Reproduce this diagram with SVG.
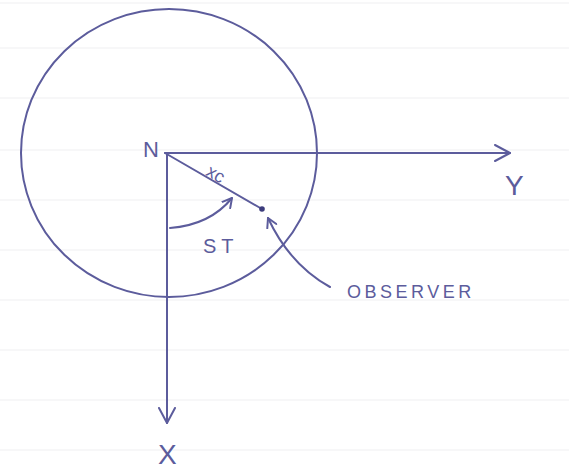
<svg xmlns="http://www.w3.org/2000/svg" width="569" height="473" viewBox="0 0 569 473">
<style>
.ink{fill:none;stroke:#5c5c9c;stroke-width:2;stroke-linecap:round;stroke-linejoin:round}
.rule{stroke:#efeff2;stroke-width:1.2}
.lbl{font-family:"Liberation Sans",Arial,sans-serif;fill:#5c5c9c}
</style>
<defs>
<marker id="open" viewBox="0 0 12 12" refX="10" refY="6" markerWidth="12" markerHeight="12" markerUnits="userSpaceOnUse" orient="auto">
<path d="M1,1 L10,6 L1,11" fill="none" stroke="#5c5c9c" stroke-width="2" stroke-linecap="round" stroke-linejoin="round"/>
</marker>
<marker id="big" viewBox="0 0 18 18" refX="16" refY="9" markerWidth="18" markerHeight="18" markerUnits="userSpaceOnUse" orient="auto">
<path d="M1,1 L16,9 L1,17" fill="none" stroke="#5c5c9c" stroke-width="2" stroke-linecap="round" stroke-linejoin="round"/>
</marker>
</defs>
<rect width="569" height="473" fill="#ffffff"/>
<g id="paper">
<line class="rule" x1="0" y1="3" x2="569" y2="3"/>
<line class="rule" x1="0" y1="48" x2="569" y2="48"/>
<line class="rule" x1="0" y1="98" x2="569" y2="98"/>
<line class="rule" x1="0" y1="150" x2="569" y2="150"/>
<line class="rule" x1="0" y1="200" x2="569" y2="200"/>
<line class="rule" x1="0" y1="250" x2="569" y2="250"/>
<line class="rule" x1="0" y1="300" x2="569" y2="300"/>
<line class="rule" x1="0" y1="350" x2="569" y2="350"/>
<line class="rule" x1="0" y1="400" x2="569" y2="400"/>
<line class="rule" x1="0" y1="450" x2="569" y2="450"/>
</g>
<g id="circle">
<ellipse class="ink" cx="169" cy="153" rx="148" ry="144"/>
</g>
<g id="connectors">
<line class="ink" x1="165" y1="153" x2="510" y2="153" marker-end="url(#big)"/>
<line class="ink" x1="167" y1="153" x2="167" y2="423" marker-end="url(#big)"/>
<line class="ink" x1="165" y1="153" x2="262" y2="209"/>
<path class="ink" d="M170,228 Q210,225 232,198" marker-end="url(#open)"/>
<path class="ink" d="M330,287 Q290,265 268,218" marker-end="url(#open)"/>
</g>
<g id="observer-dot">
<circle cx="262" cy="209" r="2.8" fill="#3c3c7c"/>
</g>
<g id="labels">
<text class="lbl" x="143" y="157" font-size="22">N</text>
<text class="lbl" x="505" y="195" font-size="28">Y</text>
<text class="lbl" x="158" y="464" font-size="28">X</text>
<text class="lbl" x="203" y="253" font-size="20" letter-spacing="5">ST</text>
<text class="lbl" x="203" y="178" font-size="18" transform="rotate(30 210 180)">xc</text>
<text class="lbl" x="347" y="298" font-size="18" letter-spacing="3.5">OBSERVER</text>
</g>
</svg>
